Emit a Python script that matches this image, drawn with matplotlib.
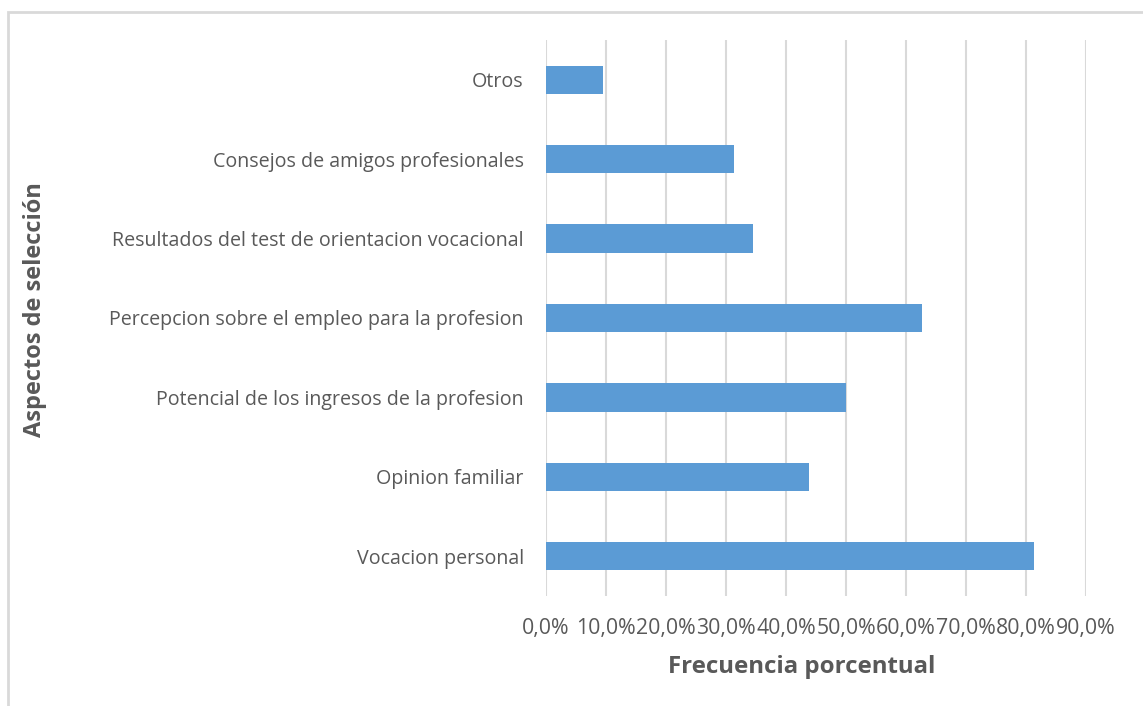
import matplotlib.pyplot as plt
from matplotlib.patches import Rectangle
from matplotlib.ticker import FuncFormatter

# data (bottom to top)
categories = [
    'Vocacion personal',
    'Opinion familiar',
    'Potencial de los ingresos de la profesion',
    'Percepcion sobre el empleo para la profesion',
    'Resultados del test de orientacion vocacional',
    'Consejos de amigos profesionales',
    'Otros',
]
values = [81.3, 43.8, 50.0, 62.6, 34.5, 31.3, 9.5]
xticks = [0, 10, 20, 30, 40, 50, 60, 70, 80, 90]

text_color = '#595959'
grid_color = '#d9d9d9'
bar_color = '#5b9bd5'

plt.rcParams['font.family'] = ['Open Sans', 'DejaVu Sans']

fig = plt.figure(figsize=(11.43, 7.06), dpi=100)
ax = fig.add_axes([546 / 1143, 1 - 596 / 706, 540 / 1143, 556 / 706])

ax.barh(range(len(categories)), values, height=0.355, color=bar_color, zorder=3)

ax.set_xlim(0, 90)
ax.set_ylim(-0.5, len(categories) - 0.5)
ax.set_xticks(xticks)
ax.xaxis.set_major_formatter(FuncFormatter(lambda v, p: f'{v:.1f}%'.replace('.', ',')))
ax.set_yticks(range(len(categories)))
ax.set_yticklabels(categories)

ax.grid(axis='x', color=grid_color, linewidth=1.5, zorder=0)
for s in ax.spines.values():
    s.set_visible(False)
ax.tick_params(axis='both', length=0, colors=text_color)
ax.tick_params(axis='y', pad=16, labelsize=14.1)
ax.tick_params(axis='x', pad=16, labelsize=15.3)

fig.text(802 / 1143, 1 - 667 / 706, 'Frecuencia porcentual', ha='center', va='center',
         fontsize=17.3, fontweight='bold', color=text_color)
fig.text(35 / 1143, 1 - 310 / 706, 'Aspectos de selección', ha='center', va='center',
         rotation=90, fontsize=17, fontweight='bold', color=text_color)

# chart area frame: only its top and left edges fall inside the image
fig.patches.append(Rectangle((8 / 1143, -0.05), 1.2, 1 - 12 / 706 + 0.05,
                             transform=fig.transFigure, fill=False,
                             edgecolor='#d9d9d9', linewidth=2))

fig.savefig('out.png', dpi=100)
